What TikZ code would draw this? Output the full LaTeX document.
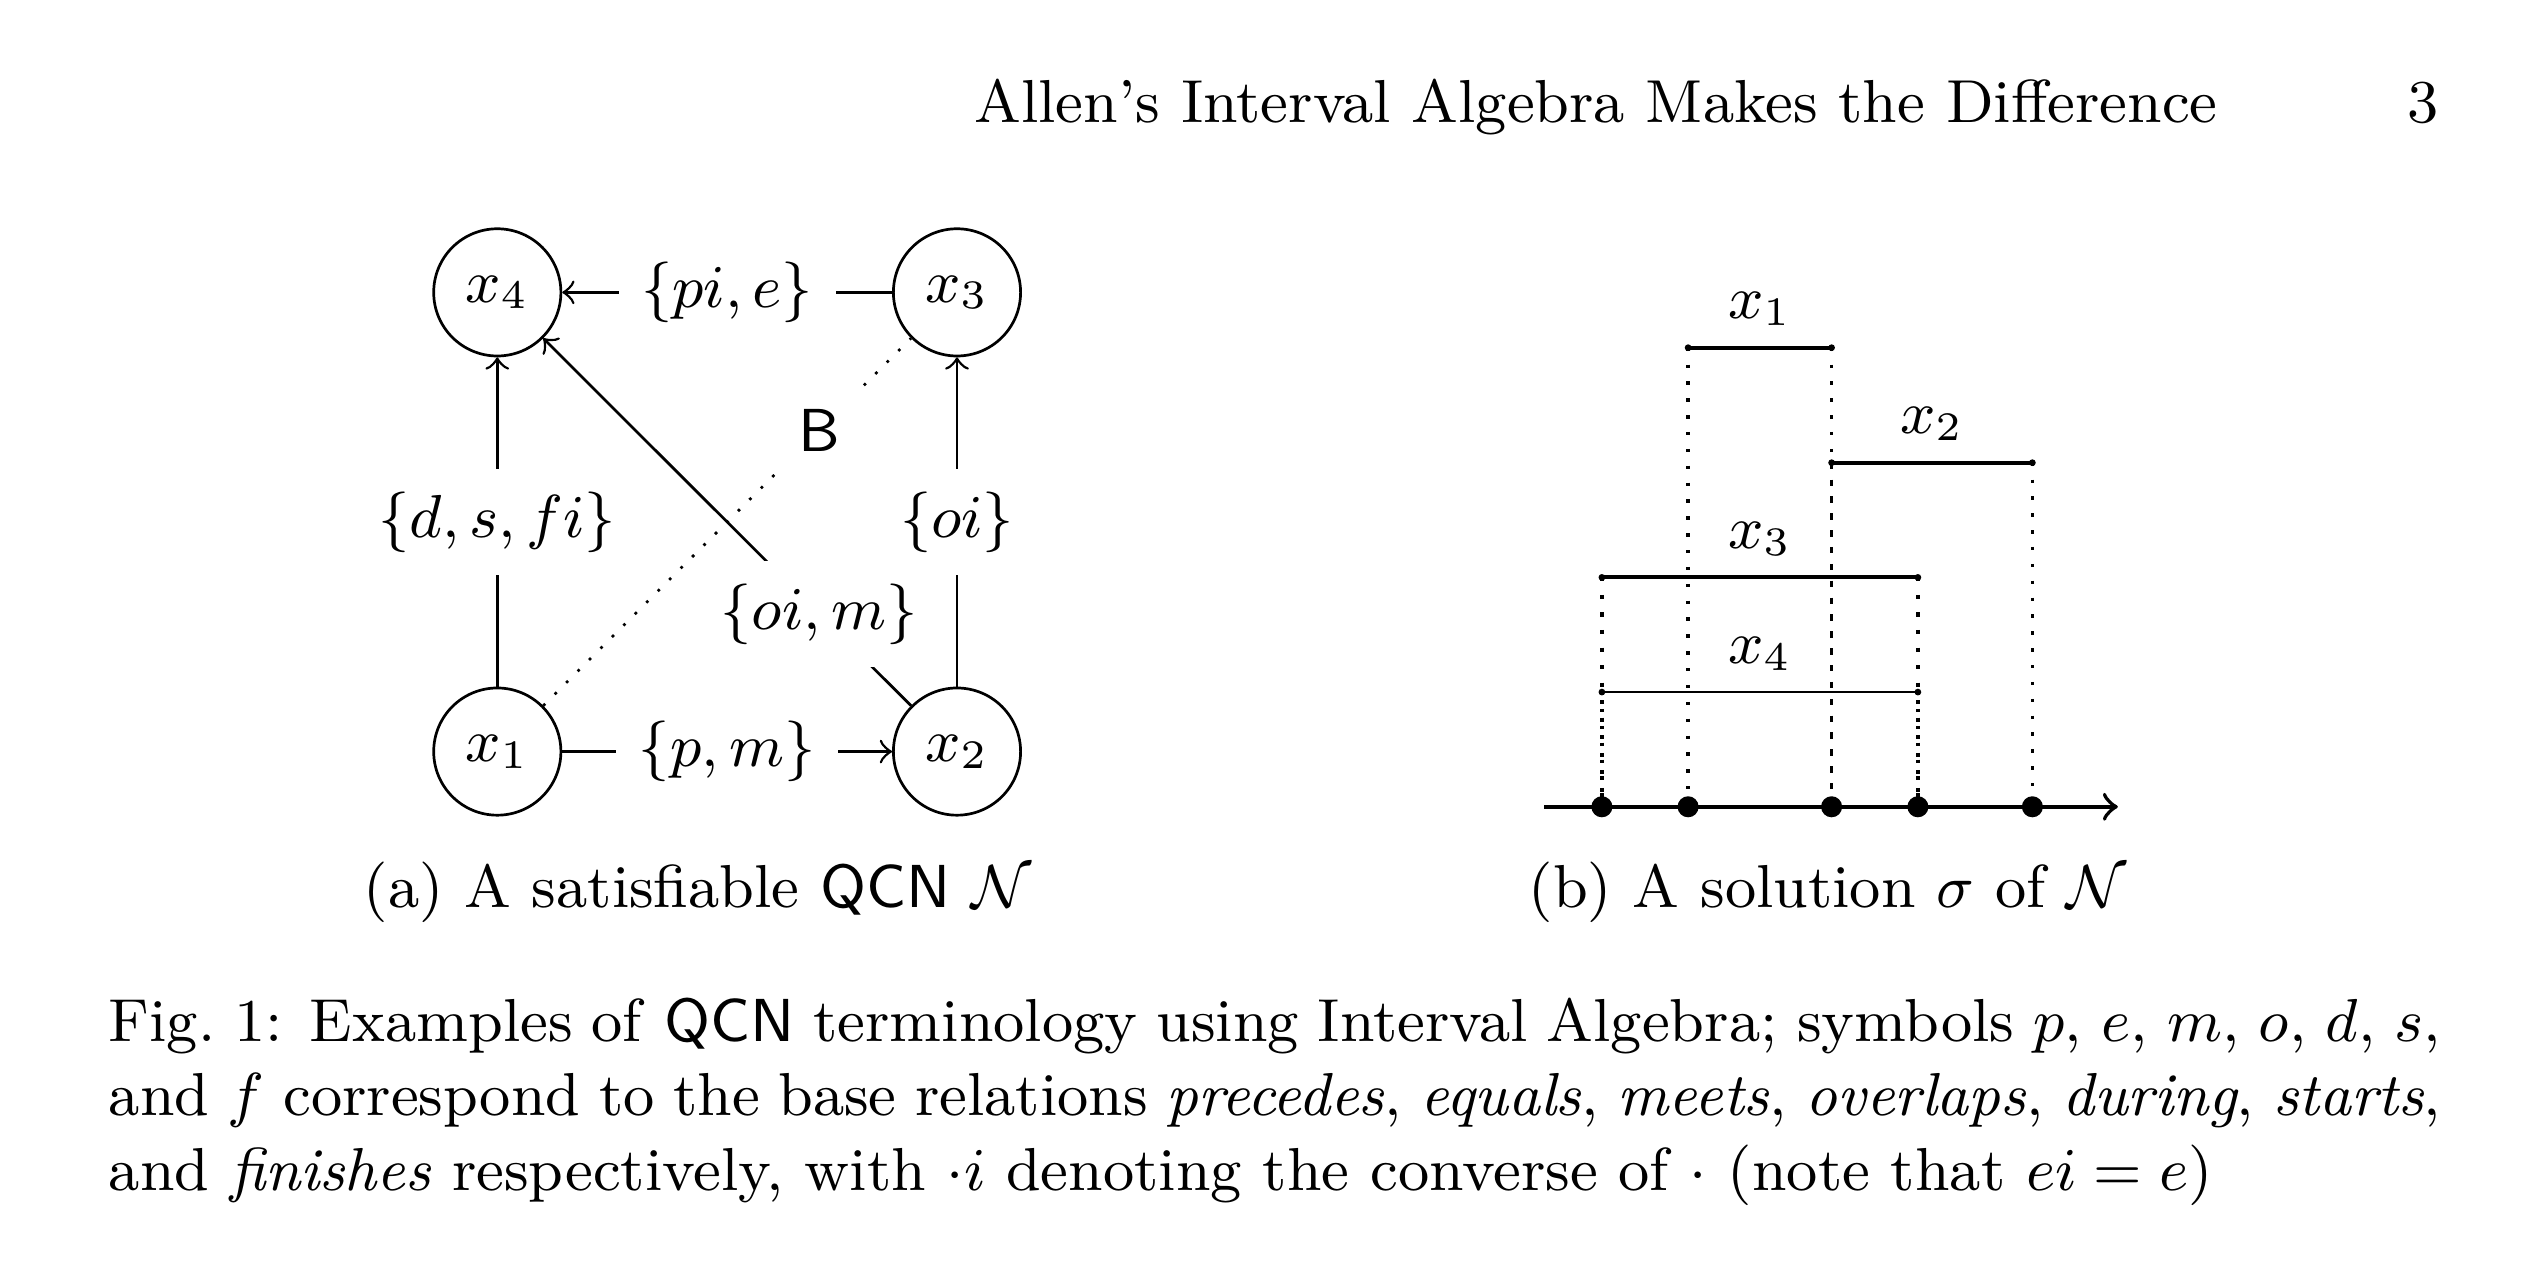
\documentclass[tikz,border=0pt]{standalone}
\begin{document}
\begin{tikzpicture}[x=0.14826pt,y=-0.14826pt,
  var/.style={draw, circle, minimum size=18.86pt, inner sep=0pt, font=\small},
  lbl/.style={fill=white, font=\small},
  txt/.style={font=\small, inner sep=0pt},
  ivl/.style={semithick},
  ivlthin/.style={thin},
  drop/.style={dotted, line width=0.5pt},
  dropthick/.style={dotted, line width=0.6pt},
  ept/.style={fill=black},
]
\useasboundingbox (0,0) rectangle (2524,1264);

% running head
\node[txt, anchor=base east] (head) at (2219,122.4) {Allen's Interval Algebra Makes the Difference};
\node[txt, anchor=base east] (page) at (2440,122.4) {3};

% (a) the QCN
\node[var] (x4) at (497.3,292.4) {$x_4$};
\node[var] (x3) at (957,292.4) {$x_3$};
\node[var] (x1) at (497.3,751.6) {$x_1$};
\node[var] (x2) at (957,751.6) {$x_2$};

\draw[dotted] (x1) -- node[lbl, pos=0.75] {\textsf{B}} (x3);
\draw[->] (x1) -- node[lbl] {$\{p, m\}$} (x2);
\draw[->] (x3) -- node[lbl] {$\{pi, e\}$} (x4);
\draw[->] (x1) -- node[lbl] {$\{d, s, fi\}$} (x4);
\draw[->] (x2) -- node[lbl] {$\{oi\}$} (x3);
\draw[->] (x2) -- node[lbl, pos=0.25] {$\{oi, m\}$} (x4);

\node[txt, anchor=base] (capa) at (697.6,908) {(a) A satisfiable \textsf{QCN} $\mathcal{N}$};

% (b) a solution
\coordinate (g1) at (1601.9,806.8);
\coordinate (g2) at (1688.1,806.8);
\coordinate (g3) at (1831.6,806.8);
\coordinate (g4) at (1917.9,806.8);
\coordinate (g5) at (2032.4,806.8);
\coordinate (axs) at (1544.2,806.8);
\coordinate (axe) at (2117.8,806.8);

\coordinate (a1) at (1688.1,347.7);
\coordinate (b1) at (1831.6,347.7);
\coordinate (a2) at (1831.6,462.7);
\coordinate (b2) at (2032.4,462.7);
\coordinate (a3) at (1601.9,577.4);
\coordinate (b3) at (1917.9,577.4);
\coordinate (a4) at (1601.9,692.1);
\coordinate (b4) at (1917.9,692.1);

\draw[drop] (a1) -- (g2);
\draw[drop] (b1) -- (g3);
\draw[drop] (a2) -- (g3);
\draw[drop] (b2) -- (g5);
\draw[dropthick] (a3) -- (g1);
\draw[dropthick] (b3) -- (g4);
\draw[drop] (a4) -- (g1);
\draw[drop] (b4) -- (g4);

\draw[ivl] (a1) -- (b1);
\draw[ivl] (a2) -- (b2);
\draw[ivl] (a3) -- (b3);
\draw[ivlthin] (a4) -- (b4);
\foreach \p in {a1,b1,a2,b2,a3,b3,a4,b4} \fill[ept] (\p) circle[radius=0.5pt];

\node[txt, anchor=base] (l1) at (1759.9,318.7) {$x_1$};
\node[txt, anchor=base] (l2) at (1932,433.7) {$x_2$};
\node[txt, anchor=base] (l3) at (1759.9,548.4) {$x_3$};
\node[txt, anchor=base] (l4) at (1759.9,663.6) {$x_4$};

\draw[semithick, ->] (axs) -- (axe);
\foreach \p in {g1,g2,g3,g4,g5} \fill[ept] (\p) circle[radius=1.56pt];

\node[txt, anchor=base] (capb) at (1827.6,908) {(b) A solution $\sigma$ of $\mathcal{N}$};

% caption
\node[txt, anchor=base west, text width=345.8pt, align=justify] (cap) at (107.5,1041.7)
 {Fig.~1: Examples of \textsf{QCN} terminology using Interval Algebra; symbols $p$, $e$, $m$, $o$, $d$, $s$, and $f$ correspond to the base relations \emph{precedes}, \emph{equals}, \emph{meets}, \emph{overlaps}, \emph{during}, \emph{starts}, and \emph{finishes} respectively, with ${\cdot}i$ denoting the converse of $\cdot$ (note that $ei = e$)};
\end{tikzpicture}
\end{document}
